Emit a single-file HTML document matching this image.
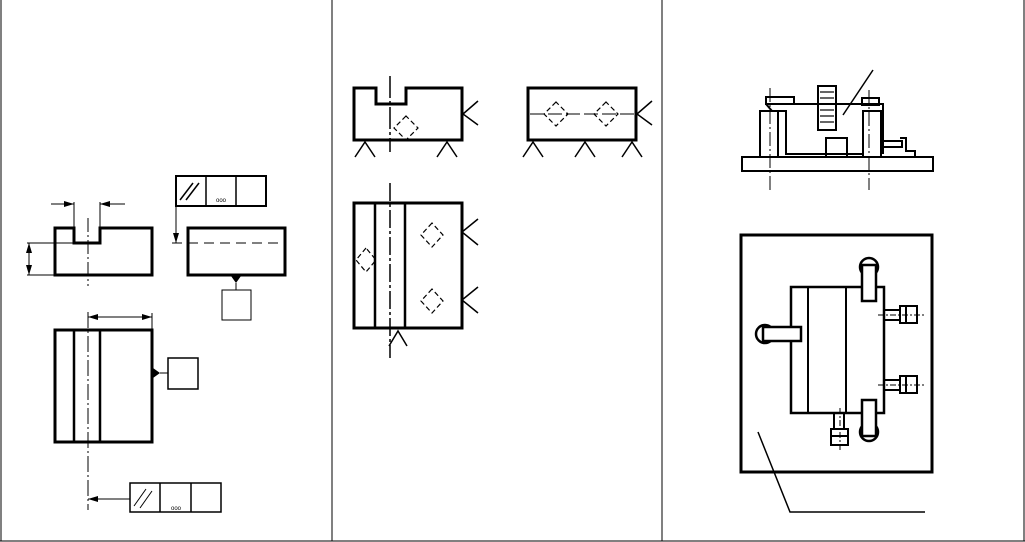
<!DOCTYPE html>
<html><head><style>body{margin:0;background:#fff}svg{display:block}</style></head><body>
<svg width="1025" height="542" viewBox="0 0 1025 542" xmlns="http://www.w3.org/2000/svg" fill="none" stroke="#000">
<defs>
<marker id="a" viewBox="0 0 10 6" refX="10" refY="3" markerWidth="10" markerHeight="6" orient="auto-start-reverse" markerUnits="userSpaceOnUse"><path d="M0,0L10,3L0,6z" fill="#000" stroke="none"/></marker>
</defs>
<!-- panel borders -->
<g stroke-width="1">
<line x1="1" y1="0" x2="1" y2="541"/><line x1="332" y1="0" x2="332" y2="541"/><line x1="662" y1="0" x2="662" y2="541"/><line x1="1024" y1="0" x2="1024" y2="541"/><line x1="0" y1="541" x2="1025" y2="541"/>
</g>
<!-- LEFT PANEL -->
<path d="M55,228H74V243H100V228H152V275H55Z" stroke-width="3"/>
<g stroke-width="1">
<line x1="74" y1="202" x2="74" y2="228"/><line x1="100" y1="202" x2="100" y2="228"/>
<line x1="51" y1="204" x2="74" y2="204" marker-end="url(#a)"/><line x1="125" y1="204" x2="100" y2="204" marker-end="url(#a)"/>
<line x1="27" y1="243" x2="74" y2="243"/><line x1="27" y1="275" x2="55" y2="275"/>
<line x1="29" y1="243" x2="29" y2="275" marker-start="url(#a)" marker-end="url(#a)"/>
<line x1="88" y1="218" x2="88" y2="286" stroke-dasharray="14,3,2,3"/>
</g>
<rect x="188" y="228" width="97" height="47" stroke-width="3"/>
<line x1="172" y1="243" x2="285" y2="243" stroke-dasharray="10,6"/>
<rect x="176" y="176" width="90" height="30" stroke-width="2"/>
<line x1="206" y1="176" x2="206" y2="206" stroke-width="1.5"/><line x1="236" y1="176" x2="236" y2="206" stroke-width="1.5"/>
<line x1="180" y1="200" x2="193" y2="183" stroke-width="1.5"/><line x1="186" y1="200" x2="199" y2="183" stroke-width="1.5"/>
<text x="221" y="202" font-family="Liberation Sans" font-size="6" fill="#000" stroke="none" text-anchor="middle">ooo</text>
<line x1="176" y1="206" x2="176" y2="243" marker-end="url(#a)"/>
<path d="M231,276L241,276L236,283Z" fill="#000" stroke="none"/>
<line x1="236" y1="283" x2="236" y2="290"/>
<rect x="222" y="290" width="29" height="30"/>
<rect x="55" y="330" width="97" height="112" stroke-width="3"/>
<line x1="74" y1="330" x2="74" y2="442" stroke-width="2.5"/><line x1="100" y1="330" x2="100" y2="442" stroke-width="2.5"/>
<line x1="88" y1="312" x2="88" y2="510" stroke-dasharray="16,3,2,3"/>
<line x1="152" y1="313" x2="152" y2="330"/>
<line x1="88" y1="317" x2="152" y2="317" marker-start="url(#a)" marker-end="url(#a)"/>
<path d="M153,368L160,373L153,378Z" fill="#000" stroke="none"/>
<line x1="160" y1="373" x2="168" y2="373"/>
<rect x="168" y="358" width="30" height="31" stroke-width="1.5"/>
<rect x="130" y="483" width="91" height="29" stroke-width="1.5"/>
<line x1="160" y1="483" x2="160" y2="512" stroke-width="1.5"/><line x1="191" y1="483" x2="191" y2="512" stroke-width="1.5"/>
<line x1="134" y1="506" x2="146" y2="489"/><line x1="140" y1="508" x2="152" y2="491"/>
<text x="176" y="510" font-family="Liberation Sans" font-size="6" fill="#000" stroke="none" text-anchor="middle">ooo</text>
<line x1="130" y1="499" x2="88" y2="499" marker-end="url(#a)"/>
<!-- MIDDLE PANEL -->
<path d="M354,88H376V104H406V88H462V140H354Z" stroke-width="3"/>
<line x1="390" y1="76" x2="390" y2="152" stroke-width="1.5" stroke-dasharray="22,3,3,3"/>
<g stroke-width="1.2" stroke-dasharray="5,3">
<path d="M406,116L394,128L406,140L418,128Z"/>
<path d="M556,102L544,114L556,126L568,114Z"/>
<path d="M606,102L594,114L606,126L618,114Z"/>
<path d="M366,248L356,260L366,272L376,260Z"/>
<path d="M432,223L421,235L432,247L443,235Z"/>
<path d="M432,289L421,301L432,313L443,301Z"/>
</g>
<g stroke-width="1.5">
<path d="M355,157L365,142L375,157"/><path d="M437,157L447,142L457,157"/>
<path d="M478,101L463,114L478,125"/>
<path d="M523,157L533,142L543,157"/><path d="M575,157L585,142L595,157"/><path d="M622,157L632,142L642,157"/>
<path d="M652,101L637,114L652,125"/>
<path d="M478,219L462,232L478,245"/><path d="M478,287L462,300L478,313"/>
<path d="M389,346L398,331L407,346"/>
</g>
<rect x="528" y="88" width="108" height="52" stroke-width="3"/>
<line x1="530" y1="114" x2="636" y2="114" stroke-dasharray="14,4"/>
<rect x="354" y="203" width="108" height="125" stroke-width="3"/>
<line x1="375" y1="203" x2="375" y2="328" stroke-width="2.5"/><line x1="405" y1="203" x2="405" y2="328" stroke-width="2.5"/>
<line x1="390" y1="183" x2="390" y2="358" stroke-width="1.5" stroke-dasharray="18,3,3,3"/>
<!-- RIGHT PANEL top -->
<rect x="742" y="157" width="191" height="14" stroke-width="2"/>
<g stroke-width="2">
<rect x="760" y="111" width="18" height="46"/>
<rect x="863" y="111" width="18" height="46"/>
<rect x="766" y="97" width="28" height="7"/>
<rect x="862" y="98" width="17" height="7"/>
<path d="M778,111H786V154H863"/>
<path d="M786,104H883V154"/>
<rect x="818" y="86" width="18" height="44"/>
<rect x="826" y="138" width="21" height="19"/>
<path d="M881,141H902V147H881"/><path d="M900,138H906V151H915V157"/>
<line x1="766" y1="104" x2="772" y2="111"/>
</g>
<g stroke-width="1.2"><line x1="820" y1="92" x2="834" y2="92"/><line x1="820" y1="98" x2="834" y2="98"/><line x1="820" y1="104" x2="834" y2="104"/><line x1="820" y1="110" x2="834" y2="110"/><line x1="820" y1="116" x2="834" y2="116"/><line x1="820" y1="122" x2="834" y2="122"/></g>
<line x1="873" y1="70" x2="843" y2="115" stroke-width="1.5"/>
<line x1="770" y1="88" x2="770" y2="190" stroke-dasharray="14,3,2,3"/>
<line x1="869" y1="90" x2="869" y2="190" stroke-dasharray="14,3,2,3"/>
<!-- RIGHT PANEL bottom -->
<rect x="741" y="235" width="191" height="237" stroke-width="3"/>
<rect x="791" y="287" width="93" height="126" stroke-width="2.5"/>
<line x1="808" y1="287" x2="808" y2="413" stroke-width="2"/><line x1="846" y1="287" x2="846" y2="413" stroke-width="2"/>
<g stroke-width="2.5">
<circle cx="869" cy="267" r="9"/><rect x="862" y="265" width="14" height="36" fill="#fff"/>
<circle cx="869" cy="432" r="9"/><rect x="862" y="400" width="14" height="36" fill="#fff"/>
<circle cx="765" cy="334" r="9"/><rect x="763" y="327" width="38" height="14" fill="#fff"/>
</g>
<g stroke-width="2">
<rect x="884" y="310" width="16" height="10"/><rect x="900" y="306" width="17" height="17"/><line x1="906" y1="306" x2="906" y2="323"/>
<rect x="884" y="380" width="16" height="10"/><rect x="900" y="376" width="17" height="17"/><line x1="906" y1="376" x2="906" y2="393"/>
<rect x="834" y="413" width="10" height="16"/><rect x="831" y="429" width="17" height="16"/><line x1="831" y1="436" x2="848" y2="436"/>
</g>
<g stroke-dasharray="6,2,2,2"><line x1="878" y1="315" x2="924" y2="315"/><line x1="878" y1="385" x2="924" y2="385"/><line x1="840" y1="408" x2="840" y2="452"/></g>
<path d="M758,432L790,512H925" stroke-width="1.5"/>
</svg>
</body></html>
